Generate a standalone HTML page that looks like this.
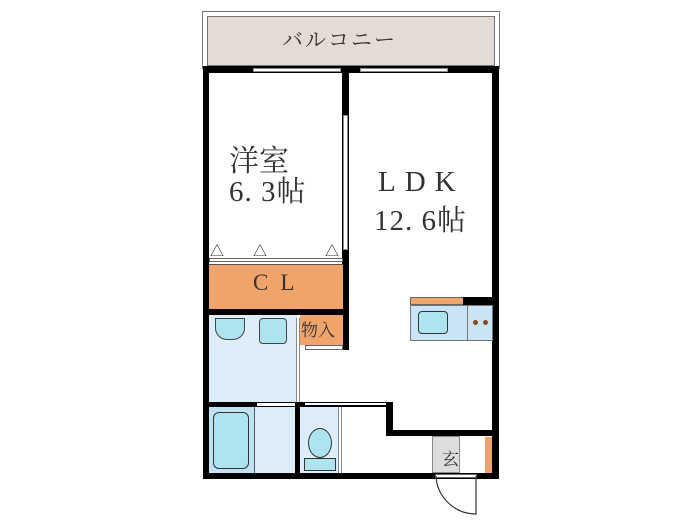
<!DOCTYPE html>
<html><head><meta charset="utf-8"><style>
body{margin:0;background:#fff;width:700px;height:525px;overflow:hidden;position:relative;font-family:"Liberation Serif","Noto Serif CJK SC",serif}
div{position:absolute;box-sizing:border-box}
.w{background:#000}
.t{color:#333;white-space:nowrap}
</style></head><body>
<!-- balcony -->
<div style="left:202px;top:11px;width:298px;height:58px;border:1px solid #777;background:#fff"></div>
<div style="left:207px;top:16px;width:288px;height:50px;border:1px solid #777;background:#e3dcd6"></div>
<div class="t" style="left:282px;top:24px;font-size:21px;letter-spacing:2px">バルコニー</div>
<!-- outer walls -->
<div class="w" style="left:203px;top:66px;width:296px;height:7px"></div>
<div class="w" style="left:203px;top:66px;width:6px;height:413px"></div>
<div class="w" style="left:492px;top:66px;width:7px;height:413px"></div>
<div class="w" style="left:203px;top:473px;width:296px;height:6px"></div>
<!-- windows top -->
<div style="left:253px;top:68px;width:88px;height:4px;background:#fff;border:1px solid #888"></div>
<div style="left:360px;top:68px;width:88px;height:4px;background:#fff;border:1px solid #888"></div>
<!-- middle wall -->
<div class="w" style="left:342px;top:66px;width:7px;height:284px"></div>
<div style="left:343px;top:115px;width:5px;height:135px;background:#fff;border:1px solid #888"></div>
<!-- closet doors -->
<div style="left:209px;top:258px;width:134px;height:4px;border:1px solid #666;background:#fff"></div>
<div class="t" style="left:210px;top:241px;font-size:14px">△</div>
<div class="t" style="left:253px;top:241px;font-size:14px">△</div>
<div class="t" style="left:325px;top:241px;font-size:14px">△</div>
<!-- CL -->
<div style="left:209px;top:264px;width:134px;height:46px;background:#f0a46a;border-top:1px solid #555"></div>
<div class="t" style="left:253px;top:270px;font-size:23px;letter-spacing:12px">CL</div>
<div class="w" style="left:203px;top:309px;width:146px;height:6px"></div>
<!-- 物入 -->
<div style="left:300px;top:315px;width:43px;height:30px;background:#f0a46a"></div>
<div class="t" style="left:301px;top:316px;font-size:17px">物入</div>
<div class="w" style="left:343px;top:315px;width:6px;height:35px"></div>
<div style="left:305px;top:345px;width:38px;height:5px;background:#fff;border:1px solid #666"></div>
<!-- wash room -->
<div style="left:209px;top:315px;width:88px;height:88px;background:#ddeefa"></div>
<div style="left:215px;top:318px;width:30px;height:22px;border:1.5px solid #444;border-radius:0 0 12px 12px;background:#aee3f0"></div>
<div style="left:259px;top:318px;width:28px;height:26px;border:1.5px solid #444;border-radius:4px;background:#aee3f0"></div>
<div style="left:296px;top:318px;width:4px;height:85px;background:#fff;border-left:1px solid #888;border-right:1px solid #888"></div>
<div class="w" style="left:203px;top:402px;width:190px;height:5px"></div>
<div style="left:257px;top:403px;width:40px;height:3px;background:#fff"></div>
<div style="left:305px;top:403px;width:85px;height:2px;background:#fff"></div>
<!-- bath -->
<div style="left:209px;top:407px;width:88px;height:66px;background:#ddeefa"></div>
<div style="left:209px;top:407px;width:46px;height:66px;background:#bfe3f5;border-right:1px solid #555"></div>
<div style="left:213px;top:412px;width:36px;height:57px;border:1.5px solid #333;border-radius:6px;background:#aee3f0"></div>
<div class="w" style="left:295px;top:402px;width:5px;height:75px"></div>
<!-- toilet -->
<div style="left:300px;top:407px;width:40px;height:66px;background:#ddeefa"></div>
<div style="left:308px;top:428px;width:24px;height:30px;border:1.5px solid #333;border-radius:50%;background:#aee3f0"></div>
<div style="left:304px;top:458px;width:32px;height:13px;border:1.5px solid #333;background:#aee3f0"></div>
<div style="left:338px;top:407px;width:4px;height:66px;background:#fff;border-left:1px solid #888;border-right:1px solid #888"></div>
<!-- step wall -->
<div class="w" style="left:386px;top:402px;width:7px;height:34px"></div>
<div class="w" style="left:386px;top:430px;width:113px;height:6px"></div>
<!-- entrance -->
<div style="left:432px;top:436px;width:28px;height:37px;background:#ddd;border:1px solid #888"></div>
<div class="t" style="left:442px;top:445px;font-size:17px">玄</div>
<div style="left:485px;top:437px;width:7px;height:36px;background:#f0a46a"></div>
<div style="left:435px;top:474px;width:42px;height:4px;background:#fff;border:1px solid #666"></div>
<svg style="position:absolute;left:430px;top:474px" width="60" height="50"><path d="M6 2 A40 40 0 0 0 46 40 L46 2" fill="none" stroke="#333" stroke-width="1.2"/></svg>
<!-- kitchen -->
<div style="left:410px;top:297px;width:54px;height:8px;background:#f0a46a;border:1px solid #666"></div>
<div class="w" style="left:463px;top:297px;width:30px;height:8px"></div>
<div style="left:410px;top:305px;width:83px;height:36px;background:#c9e4f5;border:1px solid #777"></div>
<div style="left:467px;top:305px;width:1px;height:36px;background:#777"></div>
<div style="left:418px;top:311px;width:30px;height:23px;border:1.5px solid #333;border-radius:4px;background:#aee3f0"></div>
<div style="left:473px;top:320px;width:5px;height:5px;border-radius:50%;background:#8a4a1a"></div>
<div style="left:483px;top:320px;width:5px;height:5px;border-radius:50%;background:#8a4a1a"></div>
<!-- labels -->
<div class="t" style="left:229px;top:136px;font-size:30px">洋室</div>
<div class="t" style="left:229px;top:169px;font-size:29px;letter-spacing:1px">6. 3帖</div>
<div class="t" style="left:378px;top:166px;font-size:29px;letter-spacing:9px">LDK</div>
<div class="t" style="left:374px;top:198px;font-size:29px;letter-spacing:1px">12. 6帖</div>
</body></html>
